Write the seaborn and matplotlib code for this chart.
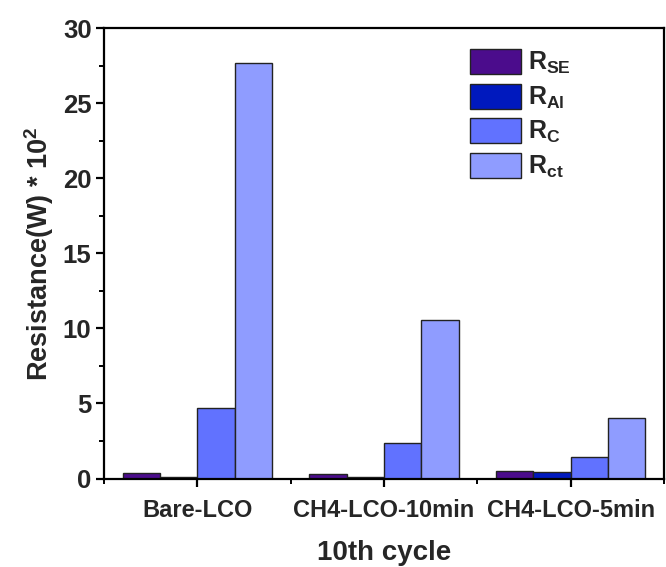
import numpy as np
import pandas as pd
import matplotlib
matplotlib.use("Agg")
import matplotlib.pyplot as plt
from matplotlib.ticker import FixedLocator, MultipleLocator
import seaborn as sns

samples = ["Bare-LCO", "CH4-LCO-10min", "CH4-LCO-5min"]
components = ["R_SE", "R_Al", "R_C", "R_ct"]
legend_labels = [r"$\mathbf{R_{SE}}$", r"$\mathbf{R_{Al}}$", r"$\mathbf{R_{C}}$", r"$\mathbf{R_{ct}}$"]
r_se = [0.38, 0.30, 0.48]
r_al = [0.12, 0.12, 0.42]
r_c = [4.72, 2.38, 1.40]
r_ct = [27.7, 10.55, 4.03]
colors = ["#4B0C8C", "#0019BE", "#6172FF", "#8F9CFF"]

df = pd.DataFrame({
    "sample": samples * 4,
    "component": np.repeat(components, len(samples)),
    "value": r_se + r_al + r_c + r_ct,
})

sns.set_theme(style="white")
plt.rcParams["font.family"] = ["Liberation Sans", "DejaVu Sans"]
plt.rcParams["font.weight"] = "bold"
plt.rcParams["mathtext.fontset"] = "custom"
plt.rcParams["mathtext.rm"] = "Liberation Sans:bold"
plt.rcParams["mathtext.bf"] = "Liberation Sans:bold"
plt.rcParams["mathtext.it"] = "Liberation Sans:bold"

fig = plt.figure(figsize=(6.66, 5.67), dpi=100)
ax = fig.add_axes([104 / 666, 1 - 478.5 / 567, 560 / 666, 450.5 / 567])

sns.barplot(data=df, x="sample", y="value", hue="component", order=samples,
            hue_order=components, palette=colors, saturation=1, width=0.8,
            edgecolor="#222222", linewidth=1.0, ax=ax, legend=True)

ax.set_xlim(-0.5, 2.5)
ax.set_ylim(0, 30)
ax.yaxis.set_major_locator(MultipleLocator(5))
ax.yaxis.set_minor_locator(MultipleLocator(2.5))
ax.xaxis.set_minor_locator(FixedLocator([-0.5, 0.5, 1.5, 2.5]))

for side in ["left", "bottom", "top", "right"]:
    ax.spines[side].set_visible(True)
    ax.spines[side].set_color("black")
    ax.spines[side].set_linewidth(1.6)

ax.tick_params(axis="both", which="major", direction="out", length=6, width=1.6,
               color="black", left=True, bottom=True, top=False, right=False)
ax.tick_params(axis="both", which="minor", direction="out", length=3.5, width=1.4,
               color="black", left=True, bottom=True, top=False, right=False)
ax.tick_params(axis="y", which="major", labelsize=18.5, pad=3)
ax.tick_params(axis="x", which="major", labelsize=17, pad=9)
for lbl in ax.get_xticklabels() + ax.get_yticklabels():
    lbl.set_fontweight("bold")

ax.set_xlabel("10th cycle", fontsize=20, fontweight="bold", labelpad=13)
ax.set_ylabel(r"Resistance(W) * 10$^{2}$", fontsize=19.5, fontweight="bold", labelpad=5)

handles, _ = ax.get_legend_handles_labels()
ax.legend(handles, legend_labels, loc="upper left", bbox_to_anchor=(0.635, 0.975),
          frameon=False, fontsize=18, handlelength=2.05, handleheight=1.15,
          labelspacing=0.3, handletextpad=0.3, borderaxespad=0)

fig.savefig("out.png", dpi=100)
